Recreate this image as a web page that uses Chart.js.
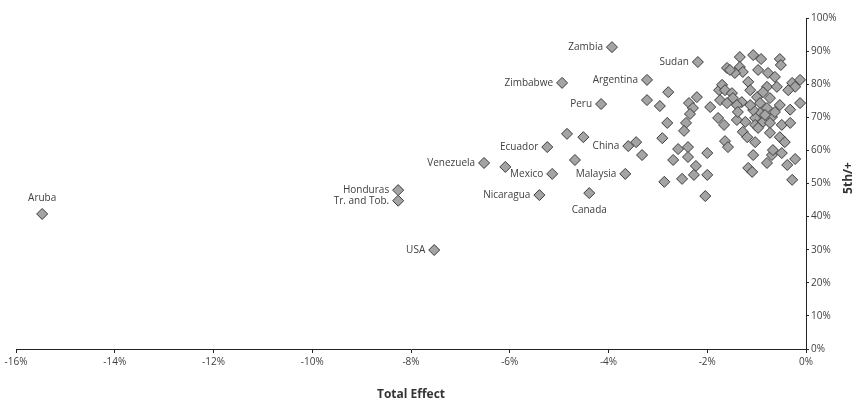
<!DOCTYPE html>
<html>
<head>
<meta charset="utf-8">
<script src="https://cdn.jsdelivr.net/npm/chart.js@4.4.0/dist/chart.umd.min.js"></script>
<style>
    body { margin: 0; background: #fff; }
    #wrap { width: 860px; height: 404px; }
</style>
</head>
<body>
<div id="wrap"><canvas id="chart" width="860" height="404"></canvas></div>
<script>
// Labelled countries: total effect (%) and 5th/+ share (%)
const countryNames = ['Aruba', 'Honduras', 'Tr. and Tob.', 'USA', 'Venezuela', 'Ecuador', 'Mexico', 'Nicaragua',
    'Zimbabwe', 'Peru', 'Zambia', 'Argentina', 'Sudan', 'China', 'Malaysia', 'Canada'];
const countryX = [-15.47, -8.26, -8.26, -7.53, -6.52, -5.24, -5.14, -5.40, -4.94, -4.15, -3.93, -3.22, -2.19, -3.60, -3.66, -4.39];
const countryY = [40.8, 48.0, 44.8, 29.9, 56.2, 61.0, 52.9, 46.5, 80.4, 74.0, 91.2, 81.3, 86.7, 61.3, 52.9, 47.1];

// Unlabelled countries
const otherX = [-6.09, -4.84, -4.51, -4.68, -3.44, -3.32,
    -2.79, -3.22, -2.96, -2.37, -2.21, -2.29, -2.35, -1.94, -1.76, -1.78, -1.66, -2.81, -2.43, -2.47, -2.91,
    -1.64, -2.59, -2.39, -2.39, -2.00, -2.69, -2.23, -2.27, -2.00, -2.87, -2.51, -2.04,
    -1.34, -1.07, -0.91, -0.53, -0.51, -1.60, -1.34, -1.28, -1.44, -0.97, -0.77, -1.17, -1.70, -1.64, -1.50,
    -0.79, -0.59, -0.28, -0.22, -0.36, -0.99, -0.87, -0.73, -0.93, -1.30, -1.74, -0.12, -0.53, -1.54, -1.13,
    -1.48, -1.40, -0.79, -0.93, -1.03, -0.32, -1.23, -1.03, -0.87, -0.69, -0.49, -0.32, -1.40, -1.60, -1.38,
    -1.07, -1.28, -1.19, -1.03, -0.73, -0.73, -0.53, -0.43, -1.58, -1.07, -0.69, -0.79, -0.38, -0.22, -1.17,
    -1.09, -0.28, -0.63, -0.12, -0.83, -0.97, -1.13, -0.63, -0.67, -0.49];
const otherY = [55.0, 65.0, 64.0, 57.1, 62.5, 58.6,
    77.6, 75.2, 73.4, 74.3, 76.1, 72.8, 71.0, 73.1, 78.2, 69.8, 67.7, 68.3, 68.3, 65.9, 63.7,
    62.8, 60.4, 61.0, 58.0, 59.2, 57.1, 55.3, 52.6, 52.6, 50.5, 51.4, 46.2,
    88.2, 88.8, 87.6, 87.6, 85.8, 84.9, 85.2, 83.7, 83.4, 84.3, 83.4, 80.7, 79.8, 78.2, 77.3,
    79.2, 79.2, 80.4, 79.2, 78.2, 76.1, 77.6, 75.8, 74.3, 74.6, 75.2, 74.3, 73.7, 84.3, 78.2,
    75.8, 73.7, 72.8, 71.3, 69.8, 72.3, 68.6, 67.7, 68.6, 70.1, 67.7, 68.3, 69.2, 74.3, 71.6,
    72.2, 65.6, 64.0, 62.5, 68.3, 65.3, 64.0, 62.5, 61.0, 58.6, 58.6, 56.2, 55.6, 57.4, 54.7,
    53.5, 51.1, 82.2, 81.3, 70.7, 66.8, 73.7, 71.6, 60.1, 59.2];

const xTicks = [-16, -14, -12, -10, -8, -6, -4, -2, 0];
const yTicks = [0, 10, 20, 30, 40, 50, 60, 70, 80, 90, 100];

const points = [];
countryX.forEach((x, i) => points.push({ x: x, y: countryY[i] }));
otherX.forEach((x, i) => points.push({ x: x, y: otherY[i] }));

const labelFont = '10px "Open Sans"';
const textColor = '#404040';

// country names next to their markers
const countryLabels = {
    id: 'countryLabels',
    afterDatasetsDraw(chart) {
        const ctx = chart.ctx;
        const meta = chart.getDatasetMeta(0);
        ctx.save();
        ctx.font = labelFont;
        ctx.fillStyle = textColor;
        countryNames.forEach((name, i) => {
            const pt = meta.data[i];
            if (name === 'Aruba') {
                ctx.textAlign = 'center';
                ctx.textBaseline = 'middle';
                ctx.fillText(name, pt.x, pt.y - 16);
            } else if (name === 'Canada') {
                ctx.textAlign = 'center';
                ctx.textBaseline = 'middle';
                ctx.fillText(name, pt.x, pt.y + 17);
            } else {
                ctx.textAlign = 'right';
                ctx.textBaseline = 'middle';
                ctx.fillText(name, pt.x - 9, pt.y);
            }
        });
        ctx.restore();
    }
};

// y axis title, reading bottom to top
const yTitle = {
    id: 'yTitle',
    afterDraw(chart) {
        const ctx = chart.ctx;
        ctx.save();
        ctx.translate(849, 178);
        ctx.rotate(-Math.PI / 2);
        ctx.font = 'bold 12px "Open Sans"';
        ctx.fillStyle = '#333';
        ctx.textAlign = 'center';
        ctx.textBaseline = 'middle';
        ctx.fillText('5th/+', 0, 0);
        ctx.restore();
    }
};

const ctx = document.getElementById('chart').getContext('2d');
new Chart(ctx, {
    type: 'scatter',
    data: {
        datasets: [{
            data: points,
            pointStyle: 'rectRot',
            pointRadius: 5.5,
            pointHoverRadius: 5.5,
            backgroundColor: '#a4a4a4',
            borderColor: '#3a3a3a',
            borderWidth: 1,
            clip: false
        }]
    },
    options: {
        responsive: false,
        animation: false,
        layout: { padding: { left: 16, top: 18, right: 0, bottom: 0 } },
        plugins: {
            legend: { display: false },
            tooltip: { enabled: false }
        },
        scales: {
            x: {
                type: 'linear',
                position: 'bottom',
                min: -16,
                max: 0,
                afterBuildTicks: (scale) => { scale.ticks = xTicks.map(v => ({ value: v })); },
                afterFit: (scale) => { scale.height = 55; },
                grid: { drawOnChartArea: false, drawTicks: true, tickLength: 4, color: '#222' },
                border: { display: true, color: '#222', width: 1 },
                ticks: {
                    autoSkip: false,
                    maxRotation: 0,
                    padding: 3,
                    color: textColor,
                    font: { family: 'Open Sans', size: 10 },
                    callback: (v) => v + '%'
                },
                title: {
                    display: true,
                    text: 'Total Effect',
                    color: '#333',
                    font: { family: 'Open Sans', size: 12, weight: 'bold' },
                    padding: { top: 4, bottom: 2 }
                }
            },
            y: {
                type: 'linear',
                position: 'right',
                min: 0,
                max: 100,
                afterBuildTicks: (scale) => { scale.ticks = yTicks.map(v => ({ value: v })); },
                afterFit: (scale) => { scale.width = 54; },
                grid: { drawOnChartArea: false, drawTicks: true, tickLength: 3, color: '#222' },
                border: { display: true, color: '#222', width: 1 },
                ticks: {
                    padding: 2,
                    color: textColor,
                    font: { family: 'Open Sans', size: 10 },
                    callback: (v) => v + '%'
                }
            }
        }
    },
    plugins: [countryLabels, yTitle]
});
</script>
</body>
</html>
